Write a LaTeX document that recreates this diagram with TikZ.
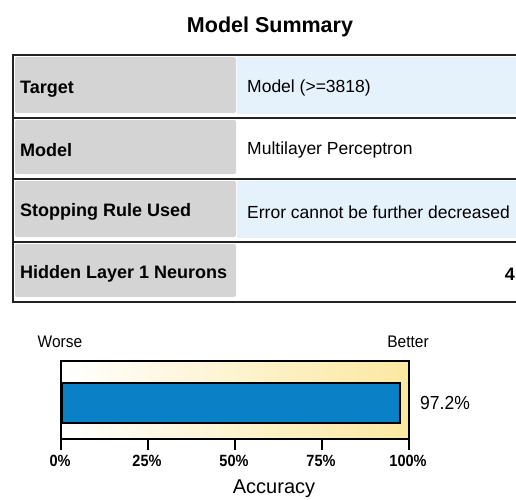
\documentclass[tikz,border=0pt]{standalone}
\usepackage{fontspec}
\setmainfont{Liberation Sans}
\usetikzlibrary{positioning}

\definecolor{cellgray}{RGB}{212,212,212}
\definecolor{cellblue}{RGB}{229,242,251}
\definecolor{barblue}{RGB}{10,128,198}
\definecolor{paleyellow}{RGB}{251,232,160}
\definecolor{rulegray}{RGB}{35,35,35}

\begin{document}
\begin{tikzpicture}[
  x=1pt, y=-1pt,
  every node/.style={inner sep=0pt},
  rowlabel/.style={anchor=west, font=\fontsize{18}{20}\selectfont\bfseries},
  rowvalue/.style={anchor=west, font=\fontsize{17.5}{20}\selectfont},
  ticklabel/.style={yscale=1.12, font=\fontsize{14.5}{16}\selectfont\bfseries},
  side/.style={yscale=1.08, font=\fontsize{15.5}{18}\selectfont},
  rule/.style={draw=rulegray, line width=2pt},
]
\useasboundingbox (0,0) rectangle (516,499);

\node (title) at (270,27) {\fontsize{21.5}{24}\selectfont\bfseries Model Summary};

% table cells
\foreach \ry/\rb/\shade in {55/118/cellblue, 118/179/white, 179/242/cellblue, 242/302/white} {
  \fill[cellgray, rounded corners=2pt] (15,\ry+2) rectangle (236,\rb-5);
  \fill[\shade] (237,\ry+2) rectangle (520,\rb-4);
}
\foreach \ry in {55,118,179,242,302}
  \draw[rule] (13,\ry) -- (520,\ry);
\draw[rule] (13,54) -- (13,303);

\node (target) [rowlabel] at (20,89) {Target};
\node (targetval) [rowvalue] at (247,88) {Model (>=3818)};
\node (model) [rowlabel] at (20,150) {Model};
\node (modelval) [rowvalue] at (247,150) {Multilayer Perceptron};
\node (stop) [rowlabel] at (20,212) {Stopping Rule Used};
\node (stopval) [rowvalue] at (247,212) {Error cannot be further decreased};
\node (hidden) [rowlabel] at (20,274) {Hidden Layer 1 Neurons};
\node (hiddenval) [rowlabel, anchor=east] at (515,274) {4};

% accuracy bar
\node (worse) [side] at (60,342) {Worse};
\node (better) [side] at (408,342) {Better};
\draw[line width=2pt, left color=white, right color=paleyellow] (61,361) rectangle (409,439);
\node (bar) [draw, line width=2pt, fill=barblue, anchor=north west,
  minimum width=338pt, minimum height=40pt] at (61,382) {};
\node (pct) [right=19pt of bar, yscale=1.08, font=\fontsize{17.5}{20}\selectfont] {97.2\%};

\foreach \p [count=\k from 0] in {0,25,50,75,100} {
  \draw[line width=2pt] (61+\k*87,439) -- (61+\k*87,450);
  \node (t\p) [ticklabel] at (60+\k*87,461) {\p\%};
}
\node (accuracy) at (274,489) {\fontsize{20}{22}\selectfont Accuracy};

\end{tikzpicture}
\end{document}
